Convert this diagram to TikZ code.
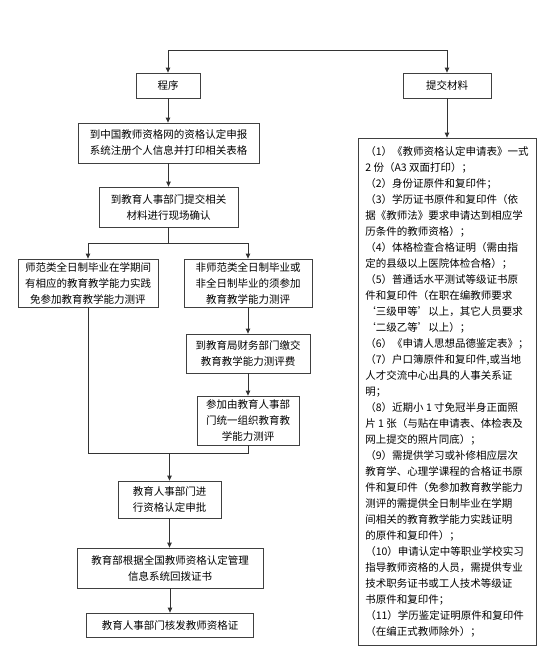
\documentclass[tikz,border=0pt]{standalone}
\usepackage{fontspec}
\newfontfamily\cjk{Noto Sans CJK SC}
\usetikzlibrary{arrows.meta}
\begin{document}
\begin{tikzpicture}[x=1pt,y=-1pt,
  box/.style={draw=black!75, line width=0.8pt, align=center, font=\cjk\fontsize{10.5}{16}\selectfont, inner sep=0pt, text=black},
  arr/.style={-{Triangle[length=5pt,width=4.5pt]}, draw=black!80, line width=0.8pt},
  ln/.style={draw=black!80, line width=0.8pt}]
\useasboundingbox[fill=white] (0,0) rectangle (554,662);
% left column
\node[box, minimum width=64, minimum height=25] (prog) at (168,85.5) {程序};
\node[box, minimum width=181, minimum height=40] (b1) at (168.5,143) {到中国教师资格网的资格认定申报\\系统注册个人信息并打印相关表格};
\node[box, minimum width=139, minimum height=40] (b2) at (168.5,207) {到教育人事部门提交相关\\材料进行现场确认};
\node[box, minimum width=140, minimum height=48] (L) at (88,283) {师范类全日制毕业在学期间\\有相应的教育教学能力实践\\免参加教育教学能力测评};
\node[box, minimum width=128, minimum height=48] (R) at (248,283) {非师范类全日制毕业或\\非全日制毕业的须参加\\教育教学能力测评};
\node[box, minimum width=124, minimum height=39] (fee) at (248,353.5) {到教育局财务部门缴交\\教育教学能力测评费};
\node[box, minimum width=102, minimum height=49] (test) at (248,420.5) {参加由教育人事部\\门统一组织教育教\\学能力测评};
\node[box, minimum width=103, minimum height=37] (appr) at (169.5,499.5) {教育人事部门进\\行资格认定申批};
\node[box, minimum width=186, minimum height=40] (moe) at (170,568) {教育部根据全国教师资格认定管理\\信息系统回拨证书};
\node[box, minimum width=167, minimum height=24] (fin) at (170,625) {教育人事部门核发教师资格证};
% right column
\node[box, minimum width=88, minimum height=25] (sub) at (447,85.5) {提交材料};
\node[box, minimum width=178, minimum height=507, align=left] (mat) at (447,391.5) {%
（1）《教师资格认定申请表》一式\\
2 份（A3 双面打印）；\\
（2）身份证原件和复印件；\\
（3）学历证书原件和复印件（依\\
据《教师法》要求申请达到相应学\\
历条件的教师资格）；\\
（4）体格检查合格证明（需由指\\
定的县级以上医院体检合格）；\\
（5）普通话水平测试等级证书原\\
件和复印件（在职在编教师要求\\
‘三级甲等’以上，其它人员要求\\
‘二级乙等’以上）；\\
（6）《申请人思想品德鉴定表》；\\
（7）户口簿原件和复印件,或当地\\
人才交流中心出具的人事关系证\\
明；\\
（8）近期小 1 寸免冠半身正面照\\
片 1 张（与贴在申请表、体检表及\\
网上提交的照片同底）；\\
（9）需提供学习或补修相应层次\\
教育学、心理学课程的合格证书原\\
件和复印件（免参加教育教学能力\\
测评的需提供全日制毕业在学期\\
间相关的教育教学能力实践证明\\
的原件和复印件）；\\
（10）申请认定中等职业学校实习\\
指导教师资格的人员，需提供专业\\
技术职务证书或工人技术等级证\\
书原件和复印件；\\
（11）学历鉴定证明原件和复印件\\
（在编正式教师除外）；};
% connectors
\coordinate (top) at (308,50);
\draw[arr] (top) -| (prog.north);
\draw[arr] (top) -| (sub.north);
\draw[arr] (prog.south) -- (prog.south |- b1.north);
\draw[arr] (b1.south) -- (b1.south |- b2.north);
\draw[arr] (b2.south) -- ++(0,16) -| (L.north);
\draw[arr] (b2.south) -- ++(0,16) -| (R.north);
\draw[arr] (R.south) -- (fee.north);
\draw[arr] (fee.south) -- (test.north);
\coordinate (j) at (169.5,453);
\draw[ln] (L.south) |- (test.south |- j) -- (test.south);
\draw[arr] (appr.north |- j) -- (appr.north);
\draw[arr] (appr.south) -- (appr.south |- moe.north);
\draw[arr] (moe.south) -- (moe.south |- fin.north);
\draw[arr] (sub.south) -- (mat.north);
\end{tikzpicture}
\end{document}
